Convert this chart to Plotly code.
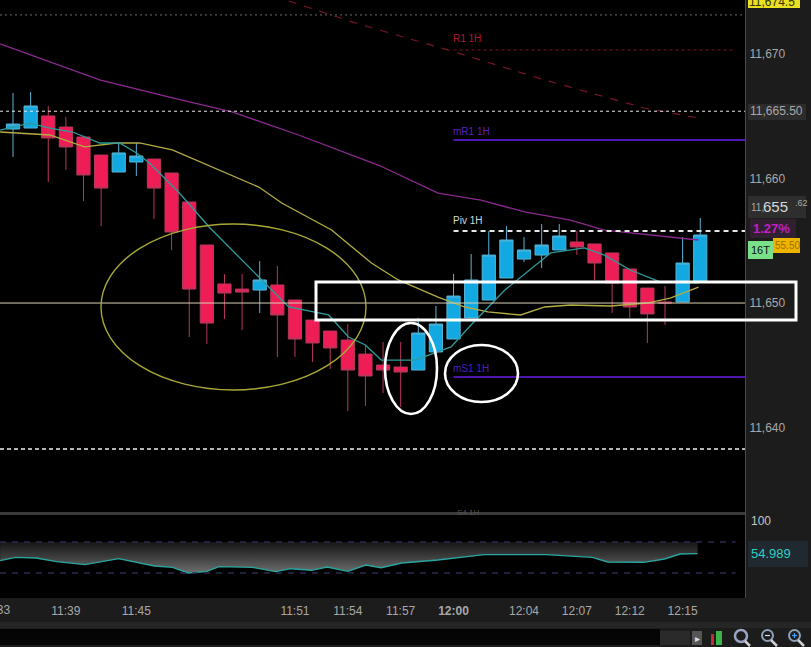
import plotly.graph_objects as go

W, H = 811, 647

# ---------- candles ----------
candle_x = list(range(40))
opens = [11663.97,11664.05,11665.02,11664.13,11663.33,11661.88,11660.52,11661.32,11661.56,11660.44,
         11658.11,11654.66,11651.53,11651.12,11651.04,11651.45,11650.24,11648.63,11647.75,11647.03,
         11645.90,11645.02,11644.86,11644.62,11646.07,11647.11,11648.80,11650.24,11652.01,11653.53,
         11653.85,11654.26,11654.90,11654.74,11654.02,11652.73,11651.20,11650.08,11650.08,11651.69]
closes = [11664.37,11665.82,11663.25,11662.53,11660.28,11659.23,11662.05,11661.80,11659.23,11655.70,
          11651.12,11648.39,11650.80,11650.88,11651.85,11649.04,11647.11,11646.79,11646.39,11644.62,
          11644.14,11644.62,11644.46,11647.59,11648.31,11650.56,11651.85,11653.85,11655.06,11654.26,
          11654.66,11655.38,11654.50,11653.21,11651.61,11649.68,11649.12,11650.00,11653.21,11655.46]
highs = [11666.86,11666.94,11665.82,11664.94,11663.33,11661.88,11662.93,11662.85,11661.56,11660.44,
         11658.11,11654.66,11652.33,11652.33,11653.37,11652.97,11650.24,11648.63,11647.75,11648.31,
         11646.63,11646.87,11646.87,11648.80,11649.76,11652.33,11653.93,11655.78,11656.18,11655.30,
         11656.34,11656.34,11655.78,11654.74,11654.02,11652.73,11651.20,11651.37,11655.30,11656.83]
lows = [11661.72,11664.05,11659.72,11660.68,11658.19,11656.18,11660.52,11660.20,11656.75,11654.26,
        11647.27,11646.71,11648.72,11647.83,11649.20,11645.66,11645.66,11645.26,11644.70,11641.33,
        11641.73,11642.77,11641.65,11644.62,11646.07,11647.11,11648.80,11650.24,11652.01,11653.29,
        11652.81,11654.26,11653.85,11651.85,11649.20,11648.80,11646.79,11648.23,11650.08,11651.69]

# ---------- moving averages ----------
magenta_x = [-0.73,2.09,4.92,8.87,12.43,16.21,20.73,24.12,26.55,29.04,31.64,33.56,36.38,38.9]
magenta_y = [11670.80,11669.35,11667.91,11666.54,11665.34,11663.49,11661.08,11658.83,11658.27,
             11657.31,11656.66,11655.86,11655.46,11655.06]
darkred_x = [15.65,19.44,24.86,30.17,35.82,38.9]
darkred_y = [11674.25,11672.48,11670.24,11667.91,11665.66,11664.86]
olive_x = [-0.73,2.09,4.07,5.88,7.18,9.04,13.95,15.25,18.08,20.34,21.86,24.12,25.65,26.95,28.81,
           30.17,31.64,33.90,35.99,37.29,38.9]
olive_y = [11663.73,11663.49,11662.53,11662.85,11662.85,11662.29,11659.31,11658.03,11655.86,11653.21,
           11651.85,11650.48,11649.68,11649.28,11649.04,11649.68,11649.84,11649.76,11650.00,11650.40,11651.28]
teal_x = [-0.73,0.96,2.09,3.39,4.92,6.05,7.01,7.74,9.44,11.13,13.95,15.65,17.91,19.04,20.0,20.9,
          22.82,24.86,25.99,27.91,30.51,32.43,33.56,35.03,36.72,38.9]
teal_y = [11663.89,11664.45,11664.05,11663.73,11662.85,11662.85,11662.05,11661.24,11658.83,11656.10,
          11652.09,11649.68,11649.04,11647.27,11646.63,11645.42,11645.42,11646.47,11648.23,11651.04,
          11654.02,11654.42,11653.85,11652.65,11651.69,11651.61]

# ---------- oscillator ----------
rsi_x = [-0.73,0.14,1.31,2.48,4.09,5.99,8.03,9.06,9.93,10.96,11.69,13.59,14.9,15.78,16.95,17.82,
         19.0,20.02,20.89,22.06,24.11,26.74,30.25,32.88,33.75,35.8,36.97,37.85,38.85]
rsi_y = [45.9,50.2,49.4,44.65,40.8,48.5,39.1,37.3,30.0,31.75,38.2,37.3,31.75,35.6,33.5,37.8,
         32.2,40.35,36.9,42.9,46.8,53.7,53.7,50.2,44.2,43.8,48.1,54.5,54.989]
rsi_upper = [70] * len(rsi_x)
rsi_levels = [70, 30]

# ---------- axis ----------
price_ticks = [11640, 11650, 11660, 11670]
price_labels = ["11,640", "11,650", "11,660", "11,670"]
time_ticks = [3, 7, 16, 19, 22, 25, 29, 32, 35, 38]
time_labels = ["11:39", "11:45", "11:51", "11:54", "11:57", "<b>12:00</b>", "12:04", "12:07", "12:12", "12:15"]

X_RANGE = [-0.738, 41.54]
Y_RANGE = [11633.22, 11674.33]
GREY = "#a8a8a8"


def fx(x):
    return x / W


def fy(y):
    return 1 - y / H


fig = go.Figure()
fig.add_trace(go.Candlestick(
    x=candle_x, open=opens, high=highs, low=lows, close=closes, whiskerwidth=0,
    increasing=dict(line=dict(color="#58b4d6", width=1), fillcolor="#12a8e2"),
    decreasing=dict(line=dict(color="#b8385c", width=1), fillcolor="#ee1d55"),
    showlegend=False, xaxis="x", yaxis="y"))
for xs, ys, color, width, dash in [
    (darkred_x, darkred_y, "#7a1526", 1.2, "8px,8px"),
    (magenta_x, magenta_y, "#8a2a90", 1.3, "solid"),
    (olive_x, olive_y, "#b3ad45", 1.3, "solid"),
    (teal_x, teal_y, "#2f9c9c", 1.3, "solid"),
]:
    fig.add_trace(go.Scatter(x=xs, y=ys, mode="lines", showlegend=False, xaxis="x", yaxis="y",
                             line=dict(color=color, width=width, dash=dash)))

fig.add_trace(go.Scatter(x=rsi_x, y=rsi_upper, mode="lines", line=dict(width=0), showlegend=False,
                         xaxis="x2", yaxis="y2"))
fig.add_trace(go.Scatter(x=rsi_x, y=rsi_y, mode="lines", line=dict(color="#2aa5a0", width=1.4),
                         fill="tonexty", showlegend=False, xaxis="x2", yaxis="y2",
                         fillgradient=dict(type="vertical",
                                           colorscale=[[0, "#6e6e6e"], [0.55, "#3a3a3a"], [1, "#161616"]])))

shapes = []


def rect(x0, y0, x1, y1, fill, line=None, lw=0, layer="above"):
    shapes.append(dict(type="rect", xref="paper", yref="paper", x0=fx(x0), x1=fx(x1), y0=fy(y0), y1=fy(y1),
                       fillcolor=fill, line=dict(color=line or fill, width=lw), layer=layer))


def ell(x0, y0, x1, y1, color, lw):
    shapes.append(dict(type="circle", xref="paper", yref="paper", x0=fx(x0), x1=fx(x1), y0=fy(y0), y1=fy(y1),
                       line=dict(color=color, width=lw)))


def seg(x0, y0, x1, y1, color, lw):
    shapes.append(dict(type="line", xref="paper", yref="paper", x0=fx(x0), x1=fx(x1), y0=fy(y0), y1=fy(y1),
                       line=dict(color=color, width=lw)))


def level(value, color, width, dash="solid", start=None, yref="y", xref="x", stop=None):
    shapes.append(dict(type="line", xref=xref, yref=yref, x0=X_RANGE[0] if start is None else start,
                       x1=X_RANGE[1] if stop is None else stop, y0=value, y1=value,
                       line=dict(color=color, width=width, dash=dash)))


# Chrome of the terminal
rect(0, 512, 745, 515, "#3a3a3a", layer="below")
rect(0, 622, 811, 628, "#262626", layer="below")
rect(0, 629, 660, 645, "#050505", layer="below")
rect(745, 0, 746, 598, "#4a4a4a", layer="below")

# Price levels
level(11673.13, "#6c6c6c", 1, "2px,3px")
level(11650.00, "#d8d2b4", 1)
level(11665.40, "#e8e8e8", 1, "3px,3px")
level(11638.28, "#eeeeee", 1.4, "4px,3px")
level(11670.32, "#7a1526", 1, "3px,3px", start=25, stop=41)
level(11663.09, "#5016b0", 2, start=25)
level(11655.78, "#e6e6e6", 2, "5px,4px", start=25)
level(11644.06, "#5016b0", 2, start=25)
for value in rsi_levels:
    level(value, "#2b2b50", 1.4, "6px,6px", yref="y2", xref="x2", stop=41)

# Hand-drawn marks
ell(101, 224, 366, 390, "#a8a838", 1.4)
ell(385, 323, 437, 414, "#ffffff", 2.6)
ell(445, 345, 518, 402, "#ffffff", 2.6)
rect(316, 282, 796, 320, "rgba(0,0,0,0)", "#ffffff", 3)

# Right-hand tags
rect(748, 0, 800, 8, "#e8e020")
rect(748, 104, 806, 120, "#2c2c2c")
rect(748, 196, 806, 218, "#2e2e2e")
rect(750, 219, 796, 238, "#302030")
rect(773, 238, 800, 253, "#eeb400")
rect(748, 241, 773, 259, "#7be08a")
rect(748, 541, 808, 567, "#202830")

# Toolbar
rect(660, 631, 690, 645, "#2a2a2a", layer="below")
rect(692, 631, 702, 645, "#555555")
rect(711, 634, 714, 645, "#c03030")
rect(716, 631, 722, 645, "#39b54a")
ell(735, 630, 747, 642, "#9aa4c0", 2.5)
seg(745, 641, 750, 646, "#cfcfcf", 2.5)
ell(762, 630, 773, 641, "#8ea0b8", 2)
seg(771, 640, 777, 646, "#cfcfcf", 2.5)
seg(765, 635.5, 770, 635.5, "#dddddd", 1.2)
ell(789, 630, 800, 641, "#8ea0b8", 2)
seg(798, 640, 804, 646, "#cfcfcf", 2.5)
seg(792, 635.5, 797, 635.5, "#3aa0ff", 1.2)
seg(794.5, 633, 794.5, 638, "#3aa0ff", 1.2)

annotations = []


def note(x, y, text, color, size=12, anchor="left", family="Liberation Sans"):
    annotations.append(dict(xref="paper", yref="paper", x=fx(x), y=fy(y), text=text, showarrow=False,
                            xanchor=anchor, yanchor="middle", align=anchor,
                            font=dict(color=color, size=size, family=family)))


note(451, 39, "R1 1H", "#b01830", 10)
note(451, 131, "mR1 1H", "#5a20c0", 10)
note(451, 221, "Piv 1H", "#d8d8d8", 10)
note(451, 368, "mS1 1H", "#4a20c0", 10)
note(468, 512, "S4 1H", "#555555", 8, "center")
note(747, 2, "11,674.5", "#333300", 12)
note(748, 111, "11,665.50", GREY, 12)
note(749, 207, "11,", GREY, 10)
note(761, 206, "655", "#d8d8d8", 15)
note(793, 203, ".62", GREY, 9)
note(751, 228, "<b>1.27%</b>", "#c020c0", 13)
note(749, 250, "16T", "#101010", 11)
note(773, 245, "55.50", "#a07000", 10)
note(749, 521, "100", "#c4c4c4", 12)
note(749, 553, "54.989", "#30d0c0", 13)
note(-5, 610, "11:33", GREY, 12, "center")
note(697, 638, "▸", "#dddddd", 10, "center")

fig.update_layout(
    width=W, height=H, margin=dict(l=0, r=0, t=0, b=0), autosize=False,
    paper_bgcolor="#1c1c1c", plot_bgcolor="#000000", showlegend=False,
    font=dict(family="Liberation Sans", size=12, color=GREY),
    shapes=shapes, annotations=annotations, boxgap=0.25, boxgroupgap=0,
    xaxis=dict(domain=[0, 745 / W], range=X_RANGE, showgrid=False, zeroline=False, showticklabels=False,
               ticks="", rangeslider=dict(visible=False), fixedrange=True),
    yaxis=dict(domain=[fy(512), 1], range=Y_RANGE, side="right", showgrid=False, zeroline=False,
               tickvals=price_ticks, ticktext=price_labels, ticks="outside", ticklen=1,
               tickcolor="rgba(0,0,0,0)", tickfont=dict(color=GREY, size=12), fixedrange=True),
    xaxis2=dict(domain=[0, 745 / W], range=X_RANGE, anchor="y2", showgrid=False, zeroline=False,
                tickvals=time_ticks, ticktext=time_labels, tickfont=dict(color=GREY, size=12),
                ticks="outside", ticklen=2, tickcolor="rgba(0,0,0,0)", fixedrange=True),
    yaxis2=dict(domain=[fy(598), fy(515)], range=[-2.2, 104.8], anchor="x2", side="right", showgrid=False,
                zeroline=False, showticklabels=False, ticks="", fixedrange=True),
)

fig.write_html("out.html", config=dict(displayModeBar=False),
               post_script="document.body.style.margin='0';document.documentElement.style.background='#1c1c1c';")
